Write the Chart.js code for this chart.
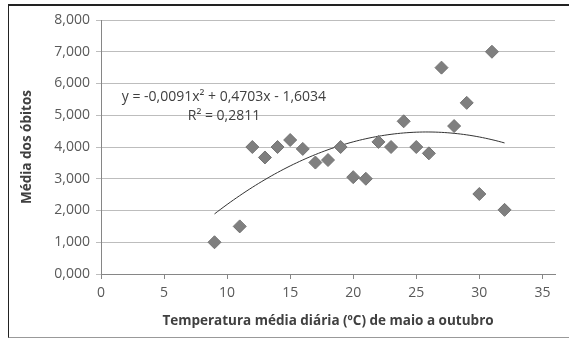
<!DOCTYPE html>
<html>
<head>
<meta charset="utf-8">
<script src="https://cdn.jsdelivr.net/npm/chart.js@4/dist/chart.umd.min.js"></script>
<style>
  html, body { margin: 0; padding: 0; background: #fff; overflow: hidden; }
  #wrap { position: relative; width: 569px; height: 339px; }
  #moldura {
    position: absolute; left: 8px; top: 4px; width: 600px; height: 331px;
    border-left: 1px solid #222; border-top: 2px solid #222; border-bottom: 1px solid #999;
    pointer-events: none;
  }
</style>
</head>
<body>
<div id="wrap">
  <canvas id="grafico" width="569" height="339"></canvas>
  <div id="moldura"></div>
</div>
<script>
// temperatura média diária (ºC) e média dos óbitos
const temperatura = [9, 11, 12, 13, 14, 15, 16, 17, 18, 19, 20, 21, 22, 23, 24, 25, 26, 27, 28, 29, 30, 31, 32];
const obitos = [1.0, 1.5, 4.0, 3.67, 4.0, 4.22, 3.94, 3.51, 3.59, 4.0, 3.05, 3.0, 4.16, 4.0, 4.81, 4.0, 3.8, 6.5, 4.66, 5.39, 2.52, 7.0, 2.02];

// linha de tendência polinomial: a*x^2 + b*x + c
const tendencia = [-0.0091, 0.4703, -1.6034];
const equacao = 'y = -0,0091x² + 0,4703x - 1,6034';
const r2 = 'R² = 0,2811';

const xTicks = [0, 5, 10, 15, 20, 25, 30, 35];
const yTicks = [0, 1, 2, 3, 4, 5, 6, 7, 8];

const curva = [];
for (let t = temperatura[0]; t <= temperatura[temperatura.length - 1] + 1e-9; t += 0.25) {
    curva.push({ x: t, y: tendencia[0] * t * t + tendencia[1] * t + tendencia[2] });
}

const pontos = temperatura.map((t, i) => ({ x: t, y: obitos[i] }));

const fonte = "'Open Sans', sans-serif";

const rotuloEquacao = {
    id: 'rotuloEquacao',
    afterDatasetsDraw(chart) {
        const ctx = chart.ctx;
        const x = chart.scales.x, y = chart.scales.y;
        ctx.save();
        ctx.font = '14px ' + fonte;
        ctx.fillStyle = '#404040';
        ctx.textAlign = 'center';
        ctx.textBaseline = 'middle';
        ctx.fillText(equacao, x.getPixelForValue(9.75), y.getPixelForValue(5.57));
        ctx.fillText(r2, x.getPixelForValue(9.75), y.getPixelForValue(4.98));
        ctx.restore();
    }
};

const ctx = document.getElementById('grafico').getContext('2d');
const grafico = new Chart(ctx, {
    type: 'scatter',
    data: {
        datasets: [{
            label: 'Média dos óbitos',
            data: pontos,
            pointStyle: 'rectRot',
            pointRadius: 6.5,
            backgroundColor: '#7f7f7f',
            borderColor: '#737373',
            borderWidth: 1
        }, {
            type: 'line',
            label: 'Polinomial',
            data: curva,
            borderColor: '#333',
            borderWidth: 1,
            pointRadius: 0,
            fill: false,
            tension: 0
        }]
    },
    plugins: [rotuloEquacao],
    options: {
        responsive: false,
        animation: false,
        layout: { padding: { left: 19, top: 20, right: 14, bottom: 10 } },
        plugins: {
            legend: { display: false },
            tooltip: { enabled: false }
        },
        scales: {
            x: {
                type: 'linear',
                min: 0,
                max: 36,
                afterFit: (s) => { s.height = 55; },
                afterBuildTicks: (s) => { s.ticks = xTicks.map(v => ({ value: v })); },
                ticks: {
                    color: '#595959',
                    font: { family: fonte, size: 14 },
                    padding: 6
                },
                grid: { drawOnChartArea: false, drawTicks: true, tickLength: 5, color: '#868686' },
                border: { color: '#868686' },
                title: {
                    display: true,
                    text: 'Temperatura média diária (ºC) de maio a outubro',
                    color: '#404040',
                    font: { family: fonte, size: 13.5, weight: 'bold' },
                    padding: { top: 0, bottom: 0 }
                }
            },
            y: {
                min: 0,
                max: 8,
                afterFit: (s) => { s.width = 82; },
                afterBuildTicks: (s) => { s.ticks = yTicks.map(v => ({ value: v })); },
                ticks: {
                    color: '#595959',
                    font: { family: fonte, size: 14 },
                    padding: 6,
                    callback: (v) => v.toFixed(3).replace('.', ',')
                },
                grid: { color: '#bdbdbd', tickLength: 5 },
                border: { color: '#868686' },
                title: {
                    display: true,
                    text: 'Média dos óbitos',
                    color: '#404040',
                    font: { family: fonte, size: 13.5, weight: 'bold' },
                    padding: { top: 0, bottom: 0 }
                }
            }
        }
    }
});
</script>
</body>
</html>
